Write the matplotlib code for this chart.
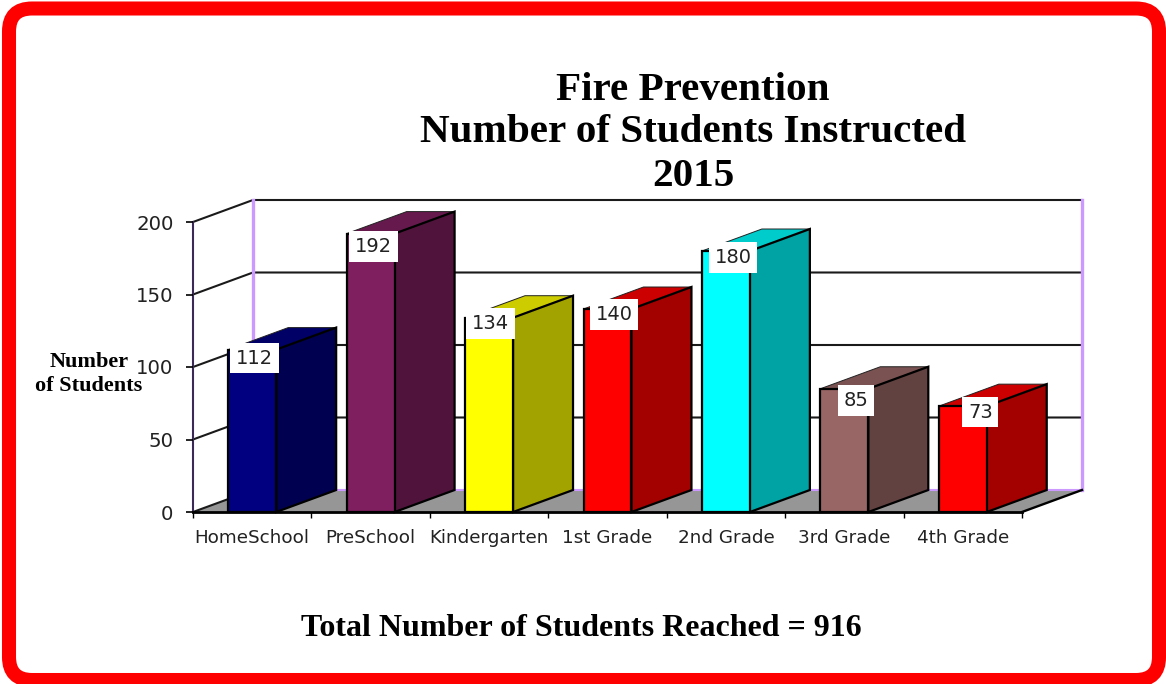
import numpy as np
import matplotlib as mpl
mpl.use('Agg')
import matplotlib.pyplot as plt
from matplotlib import patches

categories = ['HomeSchool', 'PreSchool', 'Kindergarten', '1st Grade',
              '2nd Grade', '3rd Grade', '4th Grade']
values = [112, 192, 134, 140, 180, 85, 73]
y_ticks = [0, 50, 100, 150, 200]

front_colors = ['#000080', '#7F1F60', '#FFFF00', '#FF0000', '#00FFFF', '#996666', '#FF0000']
side_colors = ['#000050', '#50143C', '#A3A300', '#A30000', '#00A3A3', '#624141', '#A30000']
top_colors = ['#000066', '#66194D', '#CCCC00', '#CC0000', '#00CCCC', '#7A5252', '#CC0000']

# label offsets from bar centre / bar top, in pixels
label_dx = [2, 2.5, 1.5, 6.5, 7, 11.5, 17.5]
label_dy = [-8.5, -13, -5.5, -5.5, -6.5, -12, -6]

W, H = 1166, 684
bar_w = 0.405
dep_x = 60 / 118.5  # depth in category units
dep_y = 22 / 1.45   # depth in value units

mpl.rc('font', family='DejaVu Sans')
serif = 'Liberation Serif'

fig = plt.figure(figsize=(W / 100, H / 100), dpi=100, facecolor='white')

# --- rounded red frame, pixel coords ---
bg = fig.add_axes([0, 0, 1, 1])
bg.set_xlim(0, W)
bg.set_ylim(H, 0)
bg.axis('off')
bg.add_patch(patches.FancyBboxPatch((9, 8.5), 1150, 671.5,
                                    boxstyle='round,pad=0,rounding_size=23',
                                    fc='white', ec='#FF0000', lw=10.1))

# --- plot axes sit on the front plane of the 3d box ---
ax = fig.add_axes([193 / W, 1 - 512 / H, 829 / W, 290 / H])
ax.patch.set_visible(False)
ax.set_xlim(0, len(categories))
ax.set_ylim(0, 200)
for s in ax.spines.values():
    s.set_visible(False)

n = len(categories)

# floor
ax.add_patch(patches.Polygon([(0, 0), (dep_x, dep_y), (n + dep_x, dep_y), (n, 0)],
                             closed=True, fc='#969696', ec='none', clip_on=False, zorder=1))
# back wall grid and side wall lines
for v in y_ticks[1:]:
    ax.plot([0, dep_x, n + dep_x], [v, v + dep_y, v + dep_y], color='#1a1a1a',
            lw=1.5, clip_on=False, zorder=1.2)
ax.plot([0, dep_x], [0, dep_y], color='#1a1a1a', lw=1.5, clip_on=False, zorder=1.2)
ax.plot([n, n + dep_x], [0, dep_y], color='black', lw=1.7, clip_on=False, zorder=3)
ax.plot([dep_x, dep_x], [dep_y, 200 + dep_y], color='#CC99FF', lw=2.4, clip_on=False, zorder=1.3)
ax.plot([n + dep_x, n + dep_x], [dep_y, 200 + dep_y], color='#CC99FF', lw=2.4, clip_on=False, zorder=1.3)
ax.plot([dep_x, n + dep_x], [dep_y, dep_y], color='#CC99FF', lw=1.5, clip_on=False, zorder=1.1)
ax.plot([0, 0], [0, 200], color='#3A2A55', lw=1.5, clip_on=False, zorder=1.3)

# bars
x = np.arange(n) + 0.5
for i in range(n):
    x0 = x[i] - bar_w / 2
    x1 = x[i] + bar_w / 2
    v = values[i]
    ax.add_patch(patches.Polygon([(x0, v), (x0 + dep_x, v + dep_y), (x1 + dep_x, v + dep_y), (x1, v)],
                                 closed=True, fc=top_colors[i], ec='#222222', lw=0.7,
                                 clip_on=False, zorder=2 + i * 0.01))
    ax.add_patch(patches.Polygon([(x1, 0), (x1 + dep_x, dep_y), (x1 + dep_x, v + dep_y), (x1, v)],
                                 closed=True, fc=side_colors[i], ec='black', lw=1.6,
                                 clip_on=False, zorder=2.002 + i * 0.01))
    ax.bar(x[i], v, width=bar_w, color=front_colors[i], edgecolor='black', lw=1.6,
           clip_on=False, zorder=2.005 + i * 0.01)

ax.plot([0, n], [0, 0], color='black', lw=2, clip_on=False, zorder=3)

for i in range(n):
    ax.annotate(str(values[i]), xy=(x[i], values[i]),
                xytext=(label_dx[i] * 0.72, label_dy[i] * 0.72), textcoords='offset points',
                ha='center', va='center', fontsize=14, color='#222222', zorder=5,
                bbox=dict(boxstyle='square,pad=0.3', fc='white', ec='none'))

# ticks
ax.set_xticks(np.arange(n + 1))
ax.set_xticklabels([])
ax.set_xticks(x, categories, minor=True)
ax.tick_params(axis='x', which='major', length=4, width=1, color='black', direction='out')
ax.tick_params(axis='x', which='minor', length=0, pad=12.5, labelsize=13.2, labelcolor='#222222')
ax.set_yticks(y_ticks)
ax.tick_params(axis='y', length=5, width=1.2, color='black', pad=9, labelsize=14.2, labelcolor='#222222')

# --- titles ---
fig.text(693 / W, 1 - 90 / H, 'Fire Prevention', family=serif, weight='bold', fontsize=29.6,
         ha='center', va='center', color='black')
fig.text(693 / W, 1 - 133 / H, 'Number of Students Instructed', family=serif, weight='bold', fontsize=29.6,
         ha='center', va='center', color='black')
fig.text(693 / W, 1 - 177 / H, '2015', family=serif, weight='bold', fontsize=29.6,
         ha='center', va='center', color='black')
fig.text(89 / W, 1 - 362 / H, 'Number', family=serif, weight='bold', fontsize=16,
         ha='center', va='center', color='black')
fig.text(89 / W, 1 - 386 / H, 'of Students', family=serif, weight='bold', fontsize=16,
         ha='center', va='center', color='black')
fig.text(581 / W, 1 - 629 / H, 'Total Number of Students Reached = 916', family=serif, weight='bold',
         fontsize=23, ha='center', va='center', color='black')

fig.savefig('out.png', dpi=100, facecolor='white')
